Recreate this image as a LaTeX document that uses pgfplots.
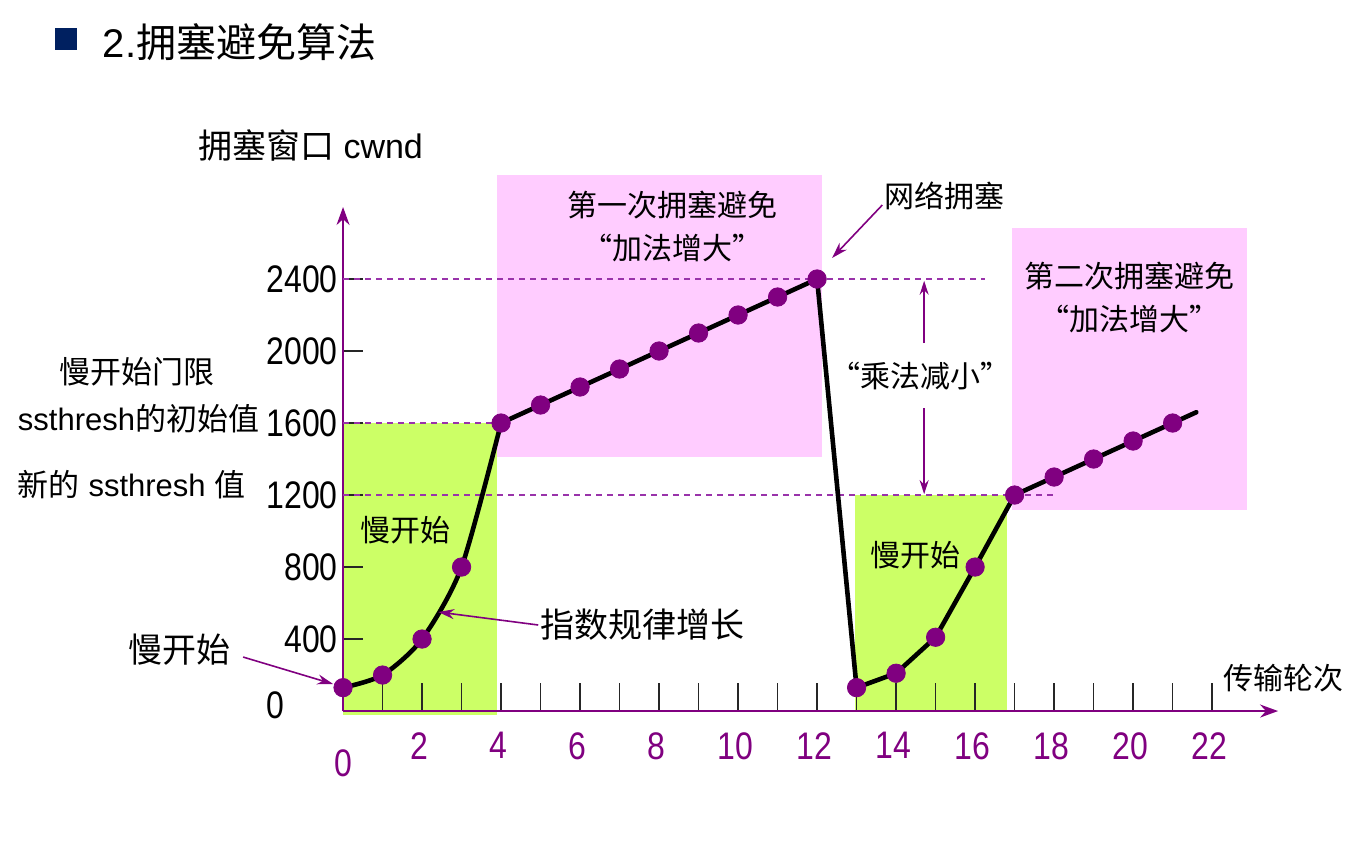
\documentclass[border=0pt]{standalone}
\usepackage{pgfplots}
\pgfplotsset{compat=1.18}
\usetikzlibrary{arrows.meta}
\usepackage{fontspec}
\setmainfont{Liberation Sans}
\newfontfamily\cjk{Noto Sans CJK SC}
\newcommand\fs[1]{\fontsize{#1}{#1}\selectfont}
\newcommand\tall[1]{\scalebox{1}[1.2]{#1}}
\definecolor{pur}{HTML}{800080}
\definecolor{dashpur}{HTML}{9933AA}
\definecolor{pinkbox}{HTML}{FFCCFF}
\definecolor{greenbox}{HTML}{CCFF66}
\definecolor{navy}{HTML}{002060}
\tikzset{ann/.style={inner sep=0pt, outer sep=0pt}}
\begin{document}
\begin{tikzpicture}
\begin{axis}[
  x=19.75pt, y=0.09pt,
  xmin=0, xmax=23.67, ymin=0, ymax=2800,
  axis lines*=left,
  set layers,
  clip=false,
  axis line style={draw=pur, line width=1pt, -{Stealth[length=9pt,width=6.5pt]}},
  tick align=inside,
  major tick length=10pt,
  minor tick length=14pt,
  xtick={2,4,6,8,10,12,14,16,18,20,22},
  xticklabels={\tall{2},\tall{4},\tall{6},\tall{8},\tall{10},\tall{12},\tall{14},\tall{16},\tall{18},\tall{20},\tall{22}},
  minor xtick={1,2,...,22},
  ytick={400,800,1200,1600,2000,2400},
  yticklabels={\tall{400},\tall{800},\tall{1200},\tall{1600},\tall{2000},\tall{2400}},
  tick style={draw=black!85, line width=0.8pt},
  major x tick style={draw=none},
  xticklabel style={text=pur, font=\fs{16pt}, anchor=north, inner sep=0pt, yshift=-10.5pt, xshift=-1.5pt},
  yticklabel style={font=\fs{16pt}, anchor=east, inner sep=0pt, xshift=-2.5pt},
]
% bounding frame
\path (axis cs:-8.684,-850) rectangle (axis cs:25.87,3950);

% background boxes
\addplot[on layer=axis background, fill=pinkbox, draw=none] coordinates {(3.9,1411) (12.13,1411) (12.13,2978) (3.9,2978)} -- cycle;
\addplot[on layer=axis background, fill=pinkbox, draw=none] coordinates {(16.94,1117) (22.89,1117) (22.89,2683) (16.94,2683)} -- cycle;
\addplot[on layer=axis background, fill=greenbox, draw=none] coordinates {(0,-22) (3.9,-22) (3.9,1600) (0,1600)} -- cycle;
\addplot[on layer=axis background, fill=greenbox, draw=none] coordinates {(12.96,0) (16.81,0) (16.81,1200) (12.96,1200)} -- cycle;

% dashed reference lines
\addplot[dashpur, line width=0.7pt, dash pattern=on 3pt off 2.5pt] coordinates {(0,2400) (16.25,2400)};
\addplot[dashpur, line width=0.7pt, dash pattern=on 3pt off 2.5pt] coordinates {(0,1600) (4,1600)};
\addplot[dashpur, line width=0.7pt, dash pattern=on 3pt off 2.5pt] coordinates {(0,1200) (18.03,1200)};

% dots
\addplot[only marks, mark=*, mark size=4.6pt, color=pur] coordinates {
(0,130) (1,200) (2,400) (3,800) (4,1600) (5,1700) (6,1800) (7,1900) (8,2000) (9,2100) (10,2200) (11,2300) (12,2400)
(13,130) (14,210) (15,410) (16,800) (17,1200) (18,1300) (19,1400) (20,1500) (21,1600)};

% cwnd line
\addplot[black, line width=2.3pt, smooth, tension=0.45, line cap=round] coordinates {(0,130) (1,200) (2,400) (3,800) (4,1600)};
\addplot[black, line width=2.3pt, line join=round, line cap=round] coordinates {
(4,1600) (5,1700) (6,1800) (7,1900) (8,2000) (9,2100) (10,2200) (11,2300) (12,2400)
(13,130) (14,210) (15,410) (16,800) (17,1200) (18,1300) (19,1400) (20,1500) (21,1600) (21.6,1660)};

% title
\fill[navy] (axis cs:-7.29,3672) rectangle (axis cs:-6.73,3794);
\node[ann, anchor=west, font=\fs{20pt}] at (axis cs:-6.08,3717) {2.{\cjk 拥塞避免算法}};
\node[ann, anchor=west, font=\fs{17pt}] at (axis cs:-3.67,3144) {{\cjk 拥塞窗口} cwnd};

% left annotations
\node[ann, font=\fs{15.5pt}] at (axis cs:-5.22,1883) {\cjk 慢开始门限};
\node[ann, anchor=west, font=\fs{15.5pt}] at (axis cs:-8.23,1622) {ssthresh{\cjk 的初始值}};
\node[ann, anchor=west, font=\fs{15.5pt}] at (axis cs:-8.23,1256) {{\cjk 新的} ssthresh {\cjk 值}};
\node[ann, font=\fs{17pt}] at (axis cs:-4.15,339) {\cjk 慢开始};
\draw[pur, line width=0.8pt, -{Stealth[length=8pt,width=5pt]}] (axis cs:-2.53,300) -- (axis cs:-0.25,150);

% zero labels
\node[ann, font=\fs{16pt}] at (axis cs:-1.70,33) {\tall{0}};
\node[ann, font=\fs{16pt}, text=pur] at (axis cs:0,-289) {\tall{0}};

% box texts
\node[ann, font=\fs{15pt}] at (axis cs:8.33,2811) {\cjk 第一次拥塞避免};
\node[ann, font=\fs{15pt}] at (axis cs:8.33,2572) {\cjk “加法增大”};
\node[ann, font=\fs{15pt}] at (axis cs:19.92,2417) {\cjk 第二次拥塞避免};
\node[ann, font=\fs{15pt}] at (axis cs:19.92,2178) {\cjk “加法增大”};
\node[ann, font=\fs{15pt}] at (axis cs:1.59,1006) {\cjk 慢开始};
\node[ann, font=\fs{15pt}] at (axis cs:14.48,867) {\cjk 慢开始};

% congestion
\node[ann, font=\fs{15pt}] at (axis cs:15.22,2861) {\cjk 网络拥塞};
\draw[pur, line width=0.8pt, -{Stealth[length=8pt,width=5pt]}] (axis cs:13.65,2811) -- (axis cs:12.38,2517);

% multiplicative decrease
\node[ann, font=\fs{15pt}] at (axis cs:14.61,1861) {\cjk “乘法减小”};
\draw[pur, line width=0.8pt, -{Stealth[length=7pt,width=4.5pt]}] (axis cs:14.71,2044) -- (axis cs:14.71,2390);
\draw[pur, line width=0.8pt, -{Stealth[length=7pt,width=4.5pt]}] (axis cs:14.71,1683) -- (axis cs:14.71,1205);

% exponential growth
\node[ann, font=\fs{17pt}] at (axis cs:7.57,478) {\cjk 指数规律增长};
\draw[pur, line width=0.8pt, -{Stealth[length=8pt,width=5pt]}] (axis cs:4.94,478) -- (axis cs:2.41,550);

% x axis label
\node[ann, font=\fs{15pt}] at (axis cs:23.80,183) {\cjk 传输轮次};
\end{axis}
\end{tikzpicture}
\end{document}
